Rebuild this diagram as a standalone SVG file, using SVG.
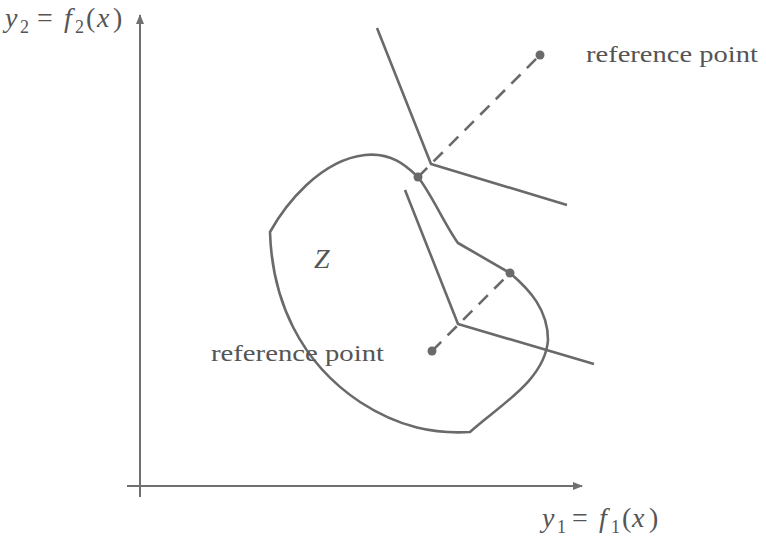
<svg xmlns="http://www.w3.org/2000/svg" width="766" height="539" viewBox="0 0 766 539">
<style>
.ln{fill:none;stroke:#6a6a6a;stroke-width:2.6;stroke-linejoin:round}
.ax{fill:none;stroke:#707070;stroke-width:2}
.dash{fill:none;stroke:#6a6a6a;stroke-width:2.6;stroke-dasharray:13,9}
.dot{fill:#6a6a6a}
.t{font-family:"Liberation Serif",serif;font-size:24px;fill:#555}
.m{font-family:"Liberation Serif",serif;font-style:italic;font-size:28px;fill:#555}
.s{font-family:"Liberation Serif",serif;font-size:18px;fill:#555}
.up{font-family:"Liberation Serif",serif;font-size:28px;fill:#555}
</style>
<defs>
<marker id="ah" viewBox="0 0 10 10" refX="9" refY="5" markerWidth="5" markerHeight="5" orient="auto"><path d="M0,1 L10,5 L0,9 z" fill="#707070"/></marker>
</defs>
<g id="axes">
<line class="ax" x1="140" y1="497" x2="140" y2="15" marker-end="url(#ah)"/>
<line class="ax" x1="127" y1="486" x2="582" y2="486" marker-end="url(#ah)"/>
</g>
<g id="region-Z">
<path class="ln" d="M270,232 C285,205 320,160 365,155 C395,152 410,170 418,177 C432,195 445,225 458,243 L510,273 C530,290 548,310 548,340 C545,380 500,405 470,432 C435,434 400,428 360,402 C300,362 272,300 270,232 Z"/>
</g>
<g id="connectors">
<polyline class="ln" points="377,28 431,164 567,205"/>
<polyline class="ln" points="405,190 458,324 594,364"/>
<line class="dash" x1="418" y1="177" x2="540" y2="55"/>
<line class="dash" x1="432" y1="351" x2="510" y2="273"/>
</g>
<g id="points">
<circle class="dot" cx="540" cy="55" r="4.5"/>
<circle class="dot" cx="418" cy="177" r="4.5"/>
<circle class="dot" cx="510" cy="273" r="4.5"/>
<circle class="dot" cx="432" cy="351" r="4.5"/>
</g>
<g id="labels">
<text class="t" x="586" y="62" textLength="172" lengthAdjust="spacingAndGlyphs">reference point</text>
<text class="t" x="211" y="361" textLength="173" lengthAdjust="spacingAndGlyphs">reference point</text>
<text class="m" x="314" y="268">Z</text>
<text y="27"><tspan class="m" x="5">y</tspan><tspan class="s" x="20" y="33">2</tspan><tspan class="up" x="37" y="27">=</tspan><tspan class="m" x="64">f</tspan><tspan class="s" x="75" y="33">2</tspan><tspan class="up" x="86" y="27">(</tspan><tspan class="m" x="97">x</tspan><tspan class="up" x="113">)</tspan></text>
<text y="527"><tspan class="m" x="542">y</tspan><tspan class="s" x="557" y="533">1</tspan><tspan class="up" x="572" y="527">=</tspan><tspan class="m" x="599">f</tspan><tspan class="s" x="611" y="533">1</tspan><tspan class="up" x="622" y="527">(</tspan><tspan class="m" x="632">x</tspan><tspan class="up" x="649">)</tspan></text>
</g>
</svg>
